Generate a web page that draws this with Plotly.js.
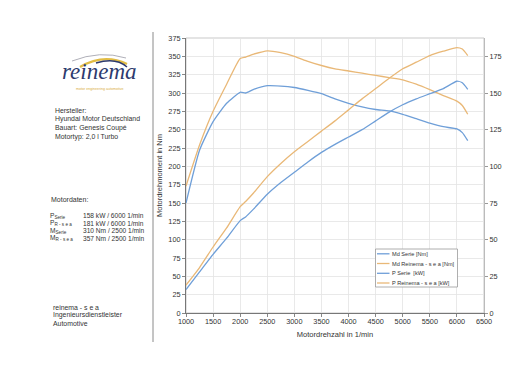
<!DOCTYPE html>
<html><head><meta charset="utf-8">
<script src="https://cdn.plot.ly/plotly-3.0.1.min.js"></script>
<style>html,body{margin:0;padding:0;background:#fff}#chart{width:520px;height:368px}</style>
</head><body><div id="chart"></div>
<script>
// ---- data ----
const rpm = [1000,1250,1500,1750,2000,2100,2250,2500,2750,3000,3250,3500,3750,4000,4250,4500,4750,5000,5250,5500,5750,6000,6100,6200];
const mdSerie   = [150,222,261,286,301,300,305,310,309.5,307.5,303.5,299,292,286,281,277.5,275.5,271,265,259,254,251,246,235];
const mdReinema = [173,229,275,312,347,349,353,357.5,355,350,343,337.5,333,330,327,324,321,318,312,304.5,296.5,289,283,271];
const pSerie    = [16,28,40,51,63,65.5,71,81,89,96,103,109.5,115,120,125,131,137,142,146,149.5,153,158,157,152.5];
const pReinema  = [19,31,45,58,72.5,76,82,93,102,110,117,124,131,138.5,146,153,160,166.5,171,175.5,178.5,181,180,175.5];
const seriesNames = ['Md Serie [Nm]','Md Reinema - s e a [Nm]','P Serie  [kW]','P Reinema - s e a [kW]'];
const xTicks = [1000,1500,2000,2500,3000,3500,4000,4500,5000,5500,6000,6500];
const yLeftTicks = [0,25,50,75,100,125,150,175,200,225,250,275,300,325,350,375];
const yRightTicks = [0,25,50,75,100,125,150,175];
const infoLines = ['Hersteller:','Hyundai Motor Deutschland','Bauart: Genesis Coupé','Motortyp: 2,0 l Turbo'];
const dataLabels = ['P<sub>Serie</sub>','P<sub>R - s e a</sub>','M<sub>Serie</sub>','M<sub>R - s e a</sub>'];
const dataValues = ['158 kW / 6000 1/min','181 kW / 6000 1/min','310 Nm / 2500 1/min','357 Nm / 2500 1/min'];
const footerLines = ['reinema - s e a','Ingenieursdienstleister','Automotive'];

// ---- styling ----
const BLUE = '#6f9fd8', ORANGE = '#e9b877';
const FONT = 'Liberation Sans, Arial, sans-serif';
const L = 186, R = 484, T = 38, B = 313;
const W = 520, H = 368;
const px = x => (x - L) / (R - L);
const py = y => (B - y) / (B - T);

const traces = [
  {x: rpm, y: mdSerie, name: seriesNames[0], yaxis: 'y', line: {color: BLUE, width: 1.3, shape: 'spline', smoothing: 0.5}},
  {x: rpm, y: mdReinema, name: seriesNames[1], yaxis: 'y', line: {color: ORANGE, width: 1.3, shape: 'spline', smoothing: 0.5}},
  {x: rpm, y: pSerie, name: seriesNames[2], yaxis: 'y2', line: {color: BLUE, width: 1.3, shape: 'spline', smoothing: 0.5}},
  {x: rpm, y: pReinema, name: seriesNames[3], yaxis: 'y2', line: {color: ORANGE, width: 1.3, shape: 'spline', smoothing: 0.5}}
].map(t => Object.assign(t, {type: 'scatter', mode: 'lines', hoverinfo: 'skip'}));

const ann = [];
const shapes = [];
const txt = (x, y, text, size, color, extra) => ann.push(Object.assign({
  xref: 'paper', yref: 'paper', x: px(x), y: py(y), text: text, showarrow: false,
  xanchor: 'left', yanchor: 'middle', font: {family: FONT, size: size, color: color}
}, extra || {}));

// left information block
const infoY = [110.7, 119.4, 128.1, 136.8];
infoLines.forEach((s, i) => txt(53, infoY[i], s, 6.9, '#333'));
txt(49, 199.5, 'Motordaten:', 7, '#333');
const dY = [215.8, 223.3, 230.8, 238.3];
dataLabels.forEach((s, i) => txt(48, dY[i], s, 6.6, '#333'));
dataValues.forEach((s, i) => txt(81, dY[i], s, 6.6, '#333'));
const fY = [307.3, 315.3, 323.3];
footerLines.forEach((s, i) => txt(51, fY[i], s, 6.9, '#333'));

// logo
txt(99.5, 85.6, '<i>reinema</i>', 23, '#2d3a6e', {xanchor: 'center', yanchor: 'bottom', font: {family: 'Liberation Serif, serif', size: 23, color: '#2d3a6e'}});
txt(99.5, 88.8, 'motor engineering automotive', 3.6, '#d9b040', {xanchor: 'center'});
const path = (pts) => 'M ' + px(pts[0]) + ',' + py(pts[1]) + ' Q ' + px(pts[2]) + ',' + py(pts[3]) + ' ' + px(pts[4]) + ',' + py(pts[5]);
shapes.push({type: 'path', xref: 'paper', yref: 'paper', path: path([72,61,100,50,126,58]), line: {color: '#9a9aa6', width: 0.8}});
shapes.push({type: 'path', xref: 'paper', yref: 'paper', path: path([80,67,104,53,127,64]), line: {color: '#e2bd45', width: 2.4}});
shapes.push({type: 'path', xref: 'paper', yref: 'paper', path: path([96,63,116,57,127,67]), line: {color: '#2d3a6e', width: 1.4}});

// separator line
shapes.push({type: 'line', xref: 'paper', yref: 'paper', x0: px(153), x1: px(153), y0: py(32), y1: py(342), line: {color: '#8a8a8a', width: 1}});
// plot frame (top/right light)
shapes.push({type: 'rect', xref: 'paper', yref: 'paper', x0: 0, x1: 1, y0: 0, y1: 1, layer: 'below', line: {color: '#c9c9c9', width: 1}});

// manual legend
const LX0 = 375.5, LX1 = 457.5, LY0 = 249, LY1 = 287;
shapes.push({type: 'rect', xref: 'paper', yref: 'paper', x0: px(LX0), x1: px(LX1), y0: py(LY0), y1: py(LY1), fillcolor: '#fff', line: {color: '#9a9a9a', width: 0.8}});
const legY = [253.8, 263.5, 273.3, 283];
const legC = [BLUE, ORANGE, BLUE, ORANGE];
seriesNames.forEach((s, i) => {
  shapes.push({type: 'line', xref: 'paper', yref: 'paper', x0: px(377), x1: px(389.5), y0: py(legY[i]), y1: py(legY[i]), line: {color: legC[i], width: 1.3}});
  txt(390, legY[i], s, 5.6, '#333');
});

const axisFont = {family: FONT, size: 7.3, color: '#333'};
const layout = {
  width: W, height: H,
  margin: {l: L, r: W - R, t: T, b: H - B, pad: 0},
  paper_bgcolor: '#fff', plot_bgcolor: '#fff',
  showlegend: false,
  font: {family: FONT},
  xaxis: {
    range: [1000, 6500], tickvals: xTicks, ticktext: xTicks.map(String), tickfont: axisFont,
    showgrid: true, gridcolor: '#e4e4e4', gridwidth: 0.8, zeroline: false,
    showline: true, linecolor: '#777', linewidth: 1, ticks: 'outside', ticklen: 3, tickcolor: '#888',
    ticklabelstandoff: -2,
    title: {text: 'Motordrehzahl in 1/min', font: {family: FONT, size: 7.5, color: '#333'}, standoff: 6}
  },
  yaxis: {
    range: [0, 375], tickvals: yLeftTicks, ticktext: yLeftTicks.map(String), tickfont: axisFont,
    showgrid: true, gridcolor: '#e4e4e4', gridwidth: 0.8, zeroline: false,
    showline: true, linecolor: '#777', linewidth: 1, ticks: 'outside', ticklen: 3, tickcolor: '#888',
    title: {text: 'Motordrehmoment in Nm', font: {family: FONT, size: 7.5, color: '#333'}, standoff: 4}
  },
  yaxis2: {
    overlaying: 'y', side: 'right', range: [0, 187.5], tickvals: yRightTicks, ticktext: yRightTicks.map(String), tickfont: axisFont,
    showgrid: false, zeroline: false, showline: true, linecolor: '#bbb', linewidth: 1,
    ticks: 'outside', ticklen: 3, tickcolor: '#999'
  },
  annotations: ann,
  shapes: shapes
};
Plotly.newPlot('chart', traces, layout, {staticPlot: true, displayModeBar: false});
</script>
</body></html>
